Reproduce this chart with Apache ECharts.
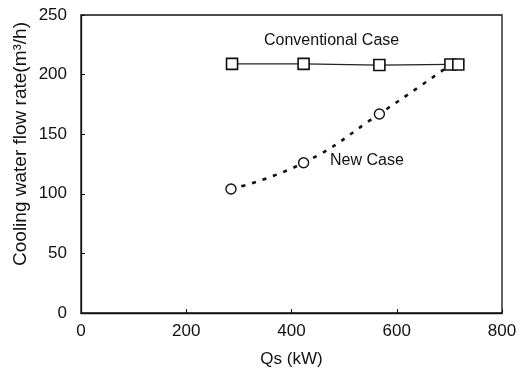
<!DOCTYPE html>
<html><head><meta charset="utf-8">
<script src="https://cdn.jsdelivr.net/npm/echarts@6/dist/echarts.min.js"></script>
<style>html,body{margin:0;padding:0;background:#fff}#c{width:525px;height:369px}</style>
</head><body><div id="c"></div>
<script>
const convX = [287, 423, 567, 702, 717];
const convY = [209, 209, 208, 208.5, 208.5];
const newX = [285, 423, 567, 703];
const newY = [104, 126, 167, 208.5];
const xTicks = [0, 200, 400, 600, 800];
const yTicks = [0, 50, 100, 150, 200, 250];

const font = 'Liberation Sans, Arial, sans-serif';
const chart = echarts.init(document.getElementById('c'));
const axisLine = {show: true, lineStyle: {color: '#111', width: 1.3}};
chart.setOption({
  backgroundColor: '#fff',
  animation: false,
  grid: {left: 81, right: 23, top: 15, bottom: 56, show: true, borderColor: '#111', borderWidth: 1.3,
    containLabel: false, outerBoundsMode: 'none'},
  xAxis: {
    type: 'value', min: 0, max: 800, interval: 200,
    name: 'Qs (kW)', nameLocation: 'middle', nameGap: 38,
    nameTextStyle: {fontFamily: font, fontSize: 17, color: '#111'},
    axisLine: axisLine,
    axisTick: {show: true, inside: true, length: 4, lineStyle: {color: '#111'}},
    axisLabel: {fontFamily: font, fontSize: 17, color: '#111', margin: 10,
      formatter: v => xTicks.includes(v) ? String(v) : ''},
    splitLine: {show: false}
  },
  yAxis: {
    type: 'value', min: 0, max: 250, interval: 50,
    axisLine: axisLine,
    axisTick: {show: true, inside: true, length: 4, lineStyle: {color: '#111'}},
    axisLabel: {fontFamily: font, fontSize: 17, color: '#111', margin: 14,
      formatter: v => yTicks.includes(v) ? String(v) : ''},
    splitLine: {show: false}
  },
  series: [
    {
      name: 'Conventional Case', type: 'line',
      data: convX.map((x, i) => [x, convY[i]]),
      symbol: 'rect', symbolSize: 11,
      lineStyle: {color: '#222', width: 1.2},
      itemStyle: {color: '#fff', borderColor: '#111', borderWidth: 1.6},
      z: 3
    },
    {
      name: 'New Case', type: 'line', smooth: true,
      data: newX.map((x, i) => [x, newY[i]]),
      symbol: 'circle', symbolSize: 10,
      lineStyle: {color: '#111', width: 2.6, type: [4, 7]},
      itemStyle: {color: '#fff', borderColor: '#111', borderWidth: 1.4},
      z: 2
    }
  ],
  graphic: [
    {type: 'text', left: 264, top: 33, style: {text: 'Conventional Case', font: '16px ' + font, fill: '#111'}},
    {type: 'text', left: 330, top: 153, style: {text: 'New Case', font: '16px ' + font, fill: '#111'}},
    {type: 'text', x: 21, y: 144, rotation: Math.PI / 2,
      style: {text: 'Cooling water flow rate(m³/h)', font: '19px ' + font, fill: '#111', align: 'center', verticalAlign: 'middle'}}
  ]
});
</script></body></html>
